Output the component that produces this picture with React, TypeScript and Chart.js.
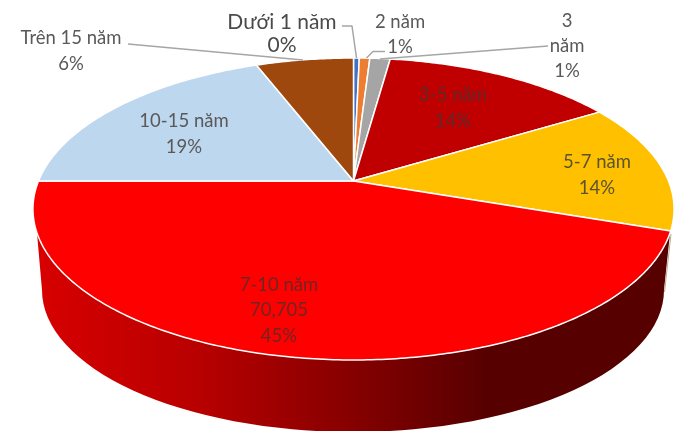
import React, { useEffect, useRef } from "react";
import { Chart, registerables } from "chart.js";

Chart.register(...registerables);

const categories = ["Dưới 1 năm", "2 năm", "3 năm", "3-5 năm", "5-7 năm", "7-10 năm", "10-15 năm", "Trên 15 năm"];
const values = [550, 1000, 1930, 22320, 21900, 70705, 30168, 9300];
const sliceColors = ["#4472c4", "#ed7d31", "#a5a5a5", "#c00000", "#ffc000", "#ff0000", "#bdd7ee", "#9e480e"];

const total = values.reduce((s, v) => s + v, 0);
const pct = (i: number) => `${Math.round((values[i] / total) * 100)}%`;

const labelLines: string[][] = [
  [categories[0], pct(0)],
  [categories[1], pct(1)],
  ["3", "năm", pct(2)],
  [categories[3], pct(3)],
  [categories[4], pct(4)],
  [categories[5], "70,705", pct(5)],
  [categories[6], pct(6)],
  [categories[7], pct(7)],
];
const labelLayout = [
  { x: 282, y: 22, lh: 23, size: 21, color: "#4a4a4a" },
  { x: 400, y: 22, lh: 25, size: 18.5, color: "#595959" },
  { x: 567, y: 21, lh: 25, size: 18.5, color: "#595959" },
  { x: 453, y: 95, lh: 26, size: 18.5, color: "#5f2a2a" },
  { x: 597, y: 162, lh: 26, size: 18.5, color: "#595430" },
  { x: 279, y: 285, lh: 25.5, size: 18.5, color: "#702525" },
  { x: 184, y: 121, lh: 26, size: 18.5, color: "#595959" },
  { x: 71, y: 38, lh: 26, size: 18.5, color: "#595959" },
];
const leaders = [
  [[342, 26], [352, 26], [356.5, 58]],
  [[385, 51.5], [373, 51.5], [366.5, 58]],
  [[380, 59], [548, 46]],
  [[128, 44], [303, 60]],
];

const P = { cx: 353.5, cy: 181, a: 315, b: 145.8, k: 0.1854 };
const project = (angle: number): [number, number] => {
  const X = Math.cos(angle);
  const Y = Math.sin(angle);
  const w = 1 - P.k * Y;
  return [P.cx + (P.a * X) / w, P.cy + (P.b * Y) / w];
};
const WALL = { cx: 353, cy: 290, rx: 311, ry: 142, topY: 232 };

const pie3d = {
  id: "pie3d",
  beforeDatasetDraw(chart: any) {
    const ctx: CanvasRenderingContext2D = chart.ctx;
    const arcs = chart.getDatasetMeta(0).data;
    const colors = chart.data.datasets[0].backgroundColor;
    const frontIndex = 5;

    const front = arcs[frontIndex];
    const pts: [number, number][] = [];
    for (let i = 0; i <= 240; i++) {
      const p = project(front.startAngle + ((front.endAngle - front.startAngle) * i) / 240);
      if (p[1] >= WALL.topY) pts.push(p);
    }
    const grad = ctx.createLinearGradient(35, 0, 490, 0);
    grad.addColorStop(0, "#d80000");
    grad.addColorStop(0.36, "#b80000");
    grad.addColorStop(0.7, "#850000");
    grad.addColorStop(1, "#560000");
    ctx.save();
    ctx.beginPath();
    pts.forEach((p, i) => (i ? ctx.lineTo(p[0], p[1]) : ctx.moveTo(p[0], p[1])));
    ctx.lineTo(WALL.cx - WALL.rx, WALL.cy);
    ctx.ellipse(WALL.cx, WALL.cy, WALL.rx, WALL.ry, 0, Math.PI, 0, true);
    ctx.closePath();
    ctx.fillStyle = grad;
    ctx.fill();
    ctx.beginPath();
    ctx.moveTo(671, 234);
    ctx.lineTo(664.5, 292);
    ctx.strokeStyle = "#b9ad94";
    ctx.lineWidth = 1;
    ctx.stroke();
    ctx.restore();

    arcs.forEach((arc: any, i: number) => {
      const steps = Math.max(4, Math.ceil((arc.endAngle - arc.startAngle) * 80));
      ctx.beginPath();
      ctx.moveTo(P.cx, P.cy);
      for (let s = 0; s <= steps; s++) {
        const p = project(arc.startAngle + ((arc.endAngle - arc.startAngle) * s) / steps);
        ctx.lineTo(p[0], p[1]);
      }
      ctx.closePath();
      ctx.fillStyle = colors[i];
      ctx.fill();
      ctx.strokeStyle = "#ffffff";
      ctx.lineWidth = 1.5;
      ctx.lineJoin = "round";
      ctx.stroke();
    });

    ctx.strokeStyle = "#a6a6a6";
    ctx.lineWidth = 1.5;
    leaders.forEach((line) => {
      ctx.beginPath();
      line.forEach((p, i) => (i ? ctx.lineTo(p[0], p[1]) : ctx.moveTo(p[0], p[1])));
      ctx.stroke();
    });

    ctx.textAlign = "center";
    ctx.textBaseline = "middle";
    labelLines.forEach((lines, i) => {
      const l = labelLayout[i];
      ctx.font = `${l.size}px Lato, sans-serif`;
      ctx.fillStyle = l.color;
      lines.forEach((t, j) => ctx.fillText(t, l.x, l.y + j * l.lh));
    });
    return false;
  },
};

export default function App() {
  const ref = useRef<HTMLCanvasElement>(null);
  useEffect(() => {
    const chart = new Chart(ref.current!, {
      type: "pie",
      data: {
        labels: categories,
        datasets: [{ data: values, backgroundColor: sliceColors, borderColor: "#ffffff", borderWidth: 1 }],
      },
      options: {
        animation: false,
        responsive: false,
        devicePixelRatio: 1,
        plugins: { legend: { display: false }, tooltip: { enabled: false } },
      },
      plugins: [pie3d],
    } as any);
    return () => chart.destroy();
  }, []);
  return (
    <div style={{ position: "fixed", left: 0, top: 0, width: 680, height: 431, overflow: "hidden", background: "#fff" }}>
      <canvas ref={ref} width={680} height={431} style={{ display: "block" }} />
    </div>
  );
}
